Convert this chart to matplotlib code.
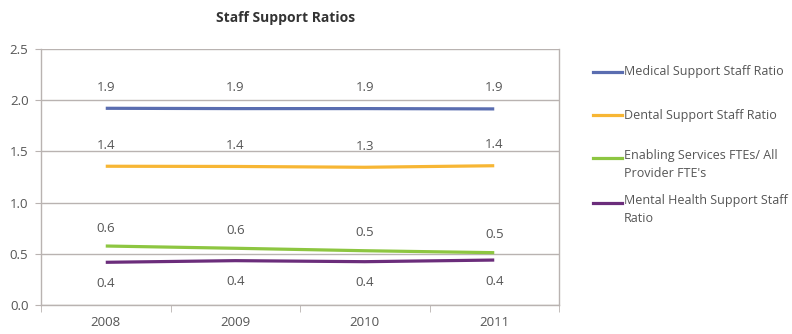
import matplotlib
matplotlib.use("Agg")
import matplotlib.pyplot as plt
from matplotlib.lines import Line2D

years = ["2008", "2009", "2010", "2011"]
medical = [1.921, 1.918, 1.918, 1.915]
dental = [1.355, 1.353, 1.345, 1.36]
enabling = [0.576, 0.554, 0.53, 0.511]
mental = [0.417, 0.433, 0.423, 0.439]

series_names = [
    "Medical Support Staff Ratio",
    "Dental Support Staff Ratio",
    "Enabling Services FTEs/ All\nProvider FTE's",
    "Mental Health Support Staff\nRatio",
]
colors = ["#5a6db0", "#f7b634", "#8dc641", "#6b2d7b"]
label_offsets = [21, 21, 18, -21]  # pixels above (+) or below (-) each point

grid_color = "#b9b3b1"
text_color = "#555555"

plt.rcParams["font.family"] = ["Open Sans", "DejaVu Sans"]

fig = plt.figure(figsize=(7.92, 3.34), dpi=100)
ax = fig.add_axes([41 / 792, 1 - 305 / 334, 518 / 792, 256 / 334])

x = list(range(len(years)))
all_series = [medical, dental, enabling, mental]
for vals, col, off in zip(all_series, colors, label_offsets):
    ax.plot(x, vals, color=col, lw=2.3, solid_capstyle="butt", zorder=3)
    for xi, v in zip(x, vals):
        ax.annotate(f"{v:.1f}", (xi, v), textcoords="offset pixels",
                    xytext=(0, off), ha="center", va="center",
                    fontsize=9.5, color=text_color)

ax.set_xlim(-0.5, len(years) - 0.5)
ax.set_ylim(0, 2.5)
yticks = [0, 0.5, 1.0, 1.5, 2.0, 2.5]
ax.set_yticks(yticks)
ax.set_yticklabels([f"{t:.1f}" for t in yticks])
ax.set_xticks(x)
ax.set_xticklabels(years)
ax.set_xticks([i - 0.5 for i in range(len(years) + 1)], minor=True)

ax.grid(axis="y", color=grid_color, lw=1.0, zorder=1)
for side in ["left", "right", "bottom", "top"]:
    ax.spines[side].set_color(grid_color)
    ax.spines[side].set_linewidth(1.0)
ax.spines["top"].set_visible(False)

ax.tick_params(axis="y", length=4, color=grid_color, labelcolor=text_color,
               labelsize=9.5, pad=5)
ax.tick_params(axis="x", which="major", length=0, labelcolor=text_color,
               labelsize=9.5, pad=8)
ax.tick_params(axis="x", which="minor", length=5, color=grid_color)

fig.text(286 / 792, 1 - 18 / 334, "Staff Support Ratios", ha="center",
         va="center", fontsize=10, fontweight="bold", color="#333333")

# Legend drawn at the right of the plot
legend_y = [72, 115, 158, 203]
for name, col, ly in zip(series_names, colors, legend_y):
    yf = 1 - ly / 334
    fig.add_artist(Line2D([593 / 792, 622 / 792], [yf, yf], color=col, lw=2.3,
                          transform=fig.transFigure))
    multi = "\n" in name
    fig.text(624 / 792, yf + (9 / 334 if multi else 0), name, ha="left",
             va="top" if multi else "center", fontsize=9, color=text_color,
             linespacing=1.5, transform=fig.transFigure)

fig.savefig("out.png", dpi=100)
